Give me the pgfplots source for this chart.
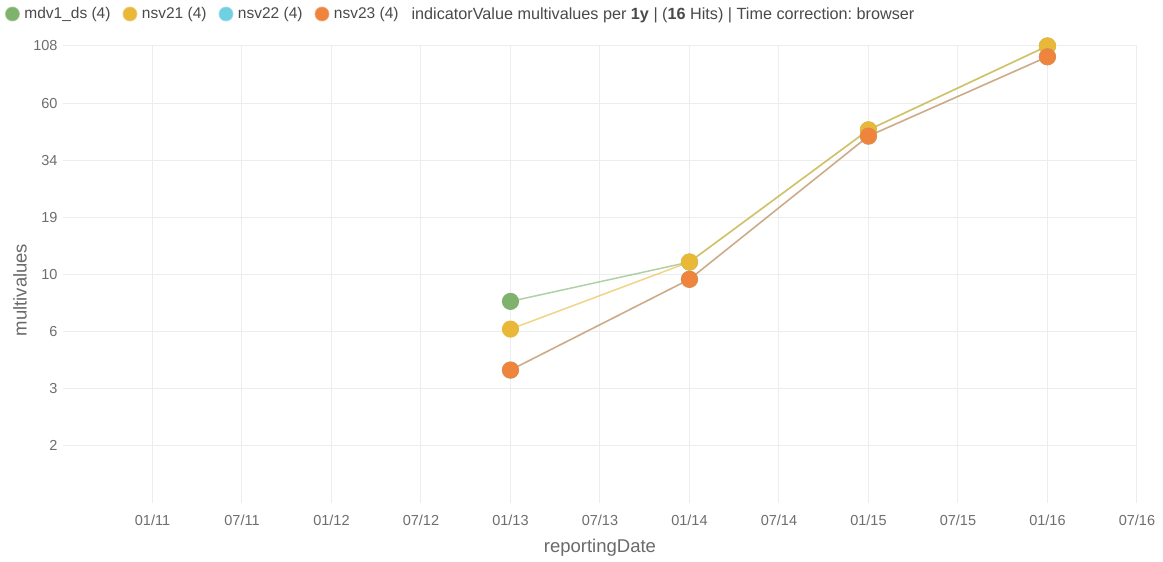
\documentclass[border=0pt]{standalone}
\usepackage{pgfplots}
\pgfplotsset{compat=1.18}
\usepackage{fontspec}
\setmainfont{Liberation Sans}
\frenchspacing
\definecolor{cgreen}{HTML}{7EB26D}
\definecolor{cyellow}{HTML}{EAB839}
\definecolor{ccyan}{HTML}{6ED0E0}
\definecolor{corange}{HTML}{EF843C}
\definecolor{gridc}{HTML}{EDEDED}
\definecolor{tickc}{HTML}{6E6E6E}
\definecolor{labc}{HTML}{6A6A6A}
\definecolor{legc}{HTML}{4A4A4A}
\begin{document}
\begin{tikzpicture}
\path[use as bounding box, fill=white] (0,0) rectangle (1163pt,562pt);
\begin{axis}[
  at={(63pt,59pt)}, anchor=south west, scale only axis,
  width=1074pt, height=457pt,
  xmin=2010.5, xmax=2016.5,
  ymode=log, ymin=1.0718, ymax=108,
  xtick={2011,2011.5,2012,2012.5,2013,2013.5,2014,2014.5,2015,2015.5,2016,2016.5},
  xticklabels={01/11,07/11,01/12,07/12,01/13,07/13,01/14,07/14,01/15,07/15,01/16,07/16},
  ytick={1.908,3.396,6.045,10.76,19.15,34.09,60.67,108},
  yticklabels={2,3,6,10,19,34,60,108},
  grid=major, major grid style={gridc, line width=1pt},
  axis line style={draw=none}, major tick length=0pt,
  /pgf/number format/assume math mode=true,
  tick label style={font=\fontsize{14.5}{16}\selectfont, text=tickc},
  xticklabel style={yshift=-8pt},
  yticklabel style={xshift=-2pt},
  xlabel={reportingDate}, ylabel={multivalues},
  label style={font=\fontsize{18.5}{20}\selectfont, text=labc},
  xlabel style={at={(axis description cs:0.5,-0.0985)}, anchor=center},
  ylabel style={at={(axis description cs:-0.040,0.466)}, anchor=center, rotate=0},
  clip=false,
  legend columns=-1,
  legend style={at={(axis description cs:-0.054,1.070)}, anchor=west,
    draw=none, fill=none, inner sep=0pt, outer sep=0pt,
    font=\fontsize{15.5}{18}\selectfont, text=legc,
    nodes={inner sep=1pt},
    /tikz/every even column/.append style={column sep=11pt}},
]
\addplot[cgreen, line width=1.5pt, draw opacity=0.6, mark=*, mark size=7.8pt,
  mark options={draw=none, fill=cgreen, draw opacity=1},
  legend image code/.code={\fill[cgreen] (0pt,0pt) circle (6.7pt); \path (10.2pt,0pt);}]
  coordinates {(2013,8.2) (2014,12.2) (2015,46.3) (2016,108)};
\addlegendentry{mdv1\_ds (4)}
\addplot[cyellow, line width=1.5pt, draw opacity=0.6, mark=*, mark size=7.8pt,
  mark options={draw=none, fill=cyellow, draw opacity=1},
  legend image code/.code={\fill[cyellow] (0pt,0pt) circle (6.7pt); \path (10.2pt,0pt);}]
  coordinates {(2013,6.2) (2014,12.2) (2015,46.3) (2016,108)};
\addlegendentry{nsv21 (4)}
\addplot[ccyan, line width=1.5pt, draw opacity=0.6, mark=*, mark size=7.8pt,
  mark options={draw=none, fill=ccyan, draw opacity=1},
  legend image code/.code={\fill[ccyan] (0pt,0pt) circle (6.7pt); \path (10.2pt,0pt);}]
  coordinates {(2013,4.1) (2014,10.25) (2015,43.5) (2016,96.9)};
\addlegendentry{nsv22 (4)}
\addplot[corange, line width=1.5pt, draw opacity=0.6, mark=*, mark size=7.8pt,
  mark options={draw=none, fill=corange, draw opacity=1},
  legend image code/.code={\fill[corange] (0pt,0pt) circle (6.7pt); \path (10.2pt,0pt);}]
  coordinates {(2013,4.1) (2014,10.25) (2015,43.5) (2016,96.9)};
\addlegendentry{nsv23 (4)}
\addlegendimage{empty legend}
\addlegendentry{\fontsize{16.2}{18}\selectfont indicatorValue multivalues per \textbf{1y} | (\textbf{16} Hits) | Time correction: browser}
\end{axis}
\end{tikzpicture}
\end{document}
